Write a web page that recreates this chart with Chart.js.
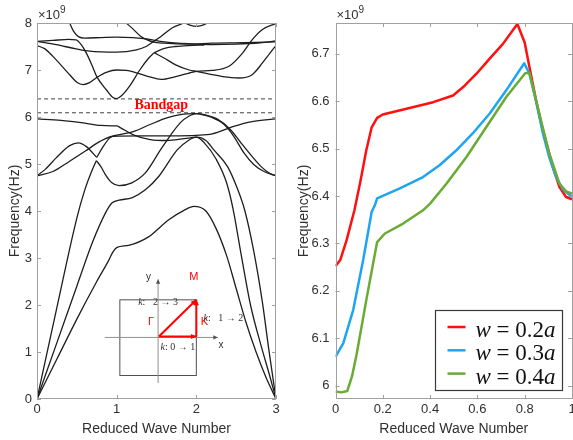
<!DOCTYPE html>
<html>
<head>
<meta charset="utf-8">
<script src="https://cdn.jsdelivr.net/npm/chart.js@4.4.1/dist/chart.umd.min.js"></script>
<style>
  html, body { margin: 0; padding: 0; background: #fff; }
  #wrap { position: relative; width: 573px; height: 440px; overflow: hidden; }
  canvas { position: absolute; top: 0; }
  #bandChart { left: 0; }
  #sweepChart { left: 290px; }
</style>
</head>
<body>
<div id="wrap">
  <canvas id="bandChart" width="290" height="440"></canvas>
  <canvas id="sweepChart" width="283" height="440"></canvas>
</div>
<script>
// ---- left panel: band curves, [reduced wave number, frequency (x1e9 Hz)] ----
const bandLow1 = [[0,0],[0.25,0.85],[0.5,1.7],[0.75,2.5],[0.9,2.95],[0.95,3.12],[1,3.22],[1.15,3.27],[1.4,3.45],[1.65,3.81],[1.85,4.02],[1.97,4.1],[2.12,4.0],[2.25,3.62],[2.38,3.05],[2.5,2.35],[2.62,1.65],[2.75,1.0],[2.87,0.48],[3,0]];
const bandLow2 = [[0,0],[0.25,1.2],[0.5,2.4],[0.7,3.35],[0.86,3.96],[0.94,4.17],[1.03,4.23],[1.19,4.28],[1.36,4.45],[1.53,4.74],[1.76,5.3],[1.9,5.5],[2,5.57],[2.12,5.5],[2.22,5.3],[2.39,4.95],[2.51,4.5],[2.61,4.0],[2.72,3.15],[2.83,2.05],[2.91,1.05],[3,0]];
const bandLow3 = [[0,0],[0.25,1.95],[0.5,3.85],[0.6,4.45],[0.68,4.82],[0.745,5.07]];
const bandMidA = [[0.745,5.07],[0.8,4.95],[0.86,4.77],[0.94,4.6],[1.03,4.54],[1.19,4.6],[1.36,4.81],[1.55,5.3],[1.68,5.62],[1.8,5.88],[1.9,6.01],[2,6.07],[2.1,6.05],[2.26,5.96],[2.43,5.73],[2.56,5.45],[2.68,5.2],[2.81,4.95],[2.93,4.79],[3,4.75]];
const bandMidB = [[0,4.75],[0.1,4.88],[0.24,5.13],[0.41,5.39],[0.52,5.45],[0.62,5.37],[0.75,5.14]];
const bandMidC = [[0.75,5.14],[0.83,5.37],[0.91,5.55],[0.96,5.6],[1.05,5.63],[1.21,5.69],[1.42,5.84],[1.63,5.98],[1.8,6.05],[2,6.07],[2.1,6.04],[2.18,6.0],[2.35,5.84],[2.47,5.59],[2.6,5.23],[2.72,4.99],[2.85,4.84],[3,4.75]];
const bandMidD = [[0,4.75],[0.2,4.84],[0.41,5.06],[0.62,5.29],[0.79,5.48],[0.96,5.59],[1.3,5.6],[1.7,5.6],[2,5.61],[2.2,5.64],[2.47,5.8],[2.7,5.9],[3,5.96]];
const bandMidE = [[0,5.96],[0.3,5.93],[0.6,5.87],[0.8,5.82],[1,5.81],[1.05,5.77],[1.21,5.62],[1.42,5.52],[1.63,5.5],[1.85,5.54],[2,5.57],[2.1,5.45],[2.25,5.1],[2.38,4.6],[2.46,4.05],[2.56,3.1],[2.68,2.0],[2.81,1.15],[2.92,0.5],[3,0]];
const bandUp1 = [[0,7.52],[0.1,7.45],[0.2,7.29],[0.41,6.9],[0.5,6.74],[0.58,6.69],[0.66,6.73],[0.75,6.84],[0.87,6.95],[1,7.0],[1.12,6.99],[1.25,6.94],[1.4,6.86],[1.56,6.8],[1.74,6.86],[1.9,6.93],[2,6.97],[2.2,6.99],[2.41,7.08],[2.58,7.36],[2.7,7.64],[2.83,7.86],[3,7.99]];
const bandUp2 = [[0,7.61],[0.2,7.63],[0.4,7.65],[0.49,7.64],[0.55,7.55],[0.62,7.36],[0.69,7.1],[0.75,6.86],[0.87,6.58],[0.95,6.42],[1,6.39],[1.06,6.45],[1.16,6.65],[1.29,7.0],[1.4,7.25],[1.47,7.37]];
const bandUp3 = [[1.47,7.37],[1.6,7.25],[1.74,7.11],[1.91,7.0],[2,6.97],[2.33,6.86],[2.53,6.83],[2.7,6.9],[2.83,7.15],[2.92,7.35],[3,7.52]];
const bandUp4 = [[1.47,7.37],[1.6,7.46],[1.74,7.5],[1.9,7.52],[2.1,7.53]];
const bandUp5 = [[0.41,8.0],[0.46,7.82],[0.52,7.71],[0.6,7.68],[0.8,7.69],[1,7.7],[1.2,7.69],[1.37,7.66],[1.6,7.6],[1.9,7.56],[2.2,7.54],[2.5,7.55],[2.8,7.58],[3,7.62]];
const bandUp6 = [[0,7.61],[0.24,7.54],[0.49,7.45],[0.66,7.4],[1,7.38],[1.25,7.43],[1.37,7.5],[1.44,7.58],[1.56,7.72],[1.7,7.9],[1.85,8.0]];
const bandUp7 = [[1.12,8.0],[1.2,7.88],[1.3,7.72],[1.37,7.65],[1.45,7.6],[1.6,7.57],[1.9,7.55],[2.2,7.57],[2.6,7.58],[3,7.6]];
const bandUp8 = [[1.86,8.0],[1.93,7.95],[2,7.93],[2.07,7.95],[2.14,8.0]];
const bandgapEdges = [6.09, 6.385];

// ---- right panel: first band above the gap for three strip widths ----
const redX   = [0, 0.02, 0.047, 0.08, 0.105, 0.13, 0.153, 0.176, 0.2, 0.3, 0.413, 0.497, 0.54, 0.596, 0.652, 0.708, 0.769, 0.8, 0.82, 0.848, 0.877, 0.919, 0.947, 0.975, 1.0];
const redF   = [6.252, 6.265, 6.307, 6.37, 6.43, 6.496, 6.545, 6.565, 6.572, 6.584, 6.598, 6.612, 6.63, 6.658, 6.69, 6.721, 6.763, 6.724, 6.672, 6.602, 6.539, 6.461, 6.419, 6.398, 6.393];
const blueX  = [0, 0.033, 0.075, 0.117, 0.153, 0.166, 0.176, 0.272, 0.37, 0.44, 0.51, 0.58, 0.652, 0.722, 0.798, 0.82, 0.848, 0.877, 0.905, 0.933, 0.96, 1.0];
const blueF  = [6.061, 6.09, 6.16, 6.265, 6.367, 6.38, 6.395, 6.416, 6.44, 6.465, 6.496, 6.532, 6.574, 6.623, 6.68, 6.658, 6.6, 6.532, 6.48, 6.44, 6.415, 6.398];
const greenX = [0, 0.025, 0.05, 0.07, 0.09, 0.13, 0.176, 0.209, 0.286, 0.37, 0.4, 0.469, 0.553, 0.637, 0.722, 0.802, 0.82, 0.848, 0.876, 0.904, 0.947, 0.975, 1.0];
const greenF = [5.988, 5.986, 5.989, 6.02, 6.068, 6.18, 6.303, 6.321, 6.342, 6.37, 6.384, 6.426, 6.482, 6.545, 6.609, 6.659, 6.66, 6.602, 6.545, 6.49, 6.426, 6.41, 6.405];
const sweepLabels = ['w = 0.2a', 'w = 0.3a', 'w = 0.4a'];
const sweepColors = ['#ff1010', '#1ea5f2', '#6aab33'];
const rightYTicks = [6, 6.1, 6.2, 6.3, 6.4, 6.5, 6.6, 6.7];

const sans = "'Liberation Sans', Arial, sans-serif";
const serif = "'Liberation Serif', 'DejaVu Serif', serif";
const tickFont = { family: sans, size: 13 };
const titleFont = { family: sans, size: 14 };
const textColor = '#303030';
const boxColor = '#a0a0a0';

function arrow(ctx, x1, y1, x2, y2, size) {
    const ang = Math.atan2(y2 - y1, x2 - x1);
    ctx.beginPath(); ctx.moveTo(x1, y1); ctx.lineTo(x2, y2); ctx.stroke();
    ctx.beginPath();
    ctx.moveTo(x2, y2);
    ctx.lineTo(x2 - size * Math.cos(ang - 0.45), y2 - size * Math.sin(ang - 0.45));
    ctx.lineTo(x2 - size * Math.cos(ang + 0.45), y2 - size * Math.sin(ang + 0.45));
    ctx.closePath(); ctx.fill();
}

// matlab style box, inward ticks on all four sides, x10^9 label
const boxPlugin = {
    id: 'matlabBox',
    afterDatasetsDraw(chart) {
        const { ctx, chartArea: a, scales: { x, y } } = chart;
        ctx.save();
        ctx.strokeStyle = boxColor;
        ctx.lineWidth = 1;
        ctx.strokeRect(Math.round(a.left) + 0.5, Math.round(a.top) + 0.5,
            Math.round(a.right - a.left) - 1, Math.round(a.bottom - a.top) - 1);
        ctx.beginPath();
        x.ticks.forEach(t => {
            const px = Math.round(x.getPixelForValue(t.value)) + 0.5;
            ctx.moveTo(px, a.bottom); ctx.lineTo(px, a.bottom - 4);
            ctx.moveTo(px, a.top); ctx.lineTo(px, a.top + 4);
        });
        y.ticks.forEach(t => {
            const py = Math.round(y.getPixelForValue(t.value)) + 0.5;
            ctx.moveTo(a.left, py); ctx.lineTo(a.left + 4, py);
            ctx.moveTo(a.right, py); ctx.lineTo(a.right - 4, py);
        });
        ctx.stroke();
        ctx.fillStyle = textColor;
        ctx.textBaseline = 'alphabetic';
        ctx.font = '13px ' + sans;
        ctx.fillText('\u00d710', a.left + 1, a.top - 4);
        const w = ctx.measureText('\u00d710').width;
        ctx.font = '10px ' + sans;
        ctx.fillText('9', a.left + 1 + w, a.top - 10);
        ctx.restore();
    }
};

// bandgap label and the brillouin zone sketch
const insetPlugin = {
    id: 'inset',
    afterDatasetsDraw(chart) {
        const { ctx, scales: { x, y } } = chart;
        const X = v => x.getPixelForValue(v), Y = v => y.getPixelForValue(v);
        ctx.save();
        ctx.fillStyle = '#ff0000';
        ctx.font = 'bold 14px ' + serif;
        ctx.textAlign = 'center';
        ctx.textBaseline = 'alphabetic';
        ctx.fillText('Bandgap', X(1.56), Y(6.18));

        // square cell
        ctx.strokeStyle = '#505050';
        ctx.lineWidth = 1;
        ctx.strokeRect(X(1.04), Y(2.11), X(2.0) - X(1.04), Y(0.5) - Y(2.11));
        // axes
        ctx.strokeStyle = '#909090';
        ctx.fillStyle = '#505050';
        arrow(ctx, X(0.85), Y(1.31), X(2.27), Y(1.31), 5);
        arrow(ctx, X(1.52), Y(0.34), X(1.52), Y(2.55), 5);
        ctx.fillStyle = '#303030';
        ctx.font = '10px ' + sans;
        ctx.textAlign = 'center';
        ctx.textBaseline = 'middle';
        ctx.fillText('x', X(2.31), Y(1.15));
        ctx.fillText('y', X(1.40), Y(2.6));

        // irreducible path
        ctx.strokeStyle = '#ff0000';
        ctx.fillStyle = '#ff0000';
        ctx.lineWidth = 2;
        arrow(ctx, X(1.53), Y(1.33), X(2.0), Y(1.33), 6);
        arrow(ctx, X(2.0), Y(1.33), X(2.0), Y(2.11), 6);
        arrow(ctx, X(1.53), Y(1.33), X(2.0), Y(2.11), 6);
        ctx.font = '11px ' + sans;
        ctx.fillText('\u0393', X(1.43), Y(1.63));
        ctx.fillText('K', X(2.1), Y(1.63));
        ctx.fillText('M', X(1.97), Y(2.6));

        // path segment labels
        ctx.fillStyle = '#303030';
        ctx.textAlign = 'left';
        const segLabels = [['2 \u2192 3', 1.27, 2.06], ['1 \u2192 2', 2.09, 1.71], ['0 \u2192 1', 1.55, 1.1]];
        segLabels.forEach(([txt, vx, vy], i) => {
            let px = X(vx);
            ctx.font = 'italic 10px ' + serif;
            ctx.fillText('k', px, Y(vy));
            px += ctx.measureText('k').width;
            ctx.font = '10px ' + serif;
            const rest = (i === 2 ? ': ' : ':   ') + txt;
            ctx.fillText(rest, px, Y(vy));
        });
        ctx.restore();
    }
};

function drawMath(ctx, s, x, y) {
    const parts = [[s[0], 'italic '], [s.slice(1, -1), ''], [s.slice(-1), 'italic ']];
    parts.forEach(([txt, style]) => {
        ctx.font = style + '23px ' + serif;
        ctx.fillText(txt, x, y);
        x += ctx.measureText(txt).width;
    });
}

const legendPlugin = {
    id: 'mathLegend',
    afterDraw(chart) {
        const { ctx, chartArea: a } = chart;
        const w = 127, h = 80;
        const bx = Math.round(a.right - 10.5 - w) + 0.5, by = Math.round(a.bottom - 9 - h) + 0.5;
        ctx.save();
        ctx.fillStyle = '#ffffff';
        ctx.fillRect(bx, by, w, h);
        ctx.strokeStyle = '#3a3a3a';
        ctx.lineWidth = 1.2;
        ctx.strokeRect(bx, by, w, h);
        ctx.textBaseline = 'alphabetic';
        ctx.textAlign = 'left';
        chart.data.datasets.forEach((ds, i) => {
            const base = by + 26.5 + i * 23.3;
            ctx.strokeStyle = ds.borderColor;
            ctx.lineWidth = 2.5;
            ctx.beginPath();
            ctx.moveTo(bx + 12, base - 10); ctx.lineTo(bx + 30, base - 10);
            ctx.stroke();
            ctx.fillStyle = '#111';
            drawMath(ctx, ds.label, bx + 40, base);
        });
        ctx.restore();
    }
};

function axisCommon(extra) {
    return Object.assign({
        type: 'linear',
        grid: { display: false, drawTicks: false },
        border: { display: false },
    }, extra);
}

// ---------------- left chart ----------------
const bandCurves = [bandLow1, bandLow2, bandLow3, bandMidA, bandMidB, bandMidC, bandMidD, bandMidE,
    bandUp1, bandUp2, bandUp3, bandUp4, bandUp5, bandUp6, bandUp7, bandUp8];

const gapSets = bandgapEdges.map(v => ({
    data: [{ x: 0, y: v }, { x: 3, y: v }],
    borderColor: '#444', borderWidth: 1, borderDash: [4, 3], pointRadius: 0, tension: 0
}));
const bandSets = bandCurves.map(c => ({
    data: c.map(p => ({ x: p[0], y: p[1] })),
    borderColor: '#1e1e1e', borderWidth: 1.3, pointRadius: 0,
    cubicInterpolationMode: 'monotone', borderJoinStyle: 'round', fill: false
}));

new Chart(document.getElementById('bandChart'), {
    type: 'line',
    data: { datasets: bandSets.concat(gapSets) },
    options: {
        responsive: false,
        animation: false,
        layout: { padding: { top: 23, right: 14, left: 0, bottom: 0 } },
        plugins: { legend: { display: false }, tooltip: { enabled: false } },
        scales: {
            x: axisCommon({
                min: 0, max: 3,
                ticks: { stepSize: 1, font: tickFont, color: textColor, padding: 3, maxRotation: 0 },
                title: { display: true, text: 'Reduced Wave Number', font: titleFont, color: textColor, padding: { top: 0, bottom: 2 } },
                afterFit: s => { s.height = 41; s.paddingLeft = 0; s.paddingRight = 0; }
            }),
            y: axisCommon({
                min: 0, max: 8,
                ticks: { stepSize: 1, font: tickFont, color: textColor, padding: 5 },
                title: { display: true, text: 'Frequency(Hz)', font: titleFont, color: textColor, padding: { top: 7, bottom: 0 } },
                afterFit: s => { s.width = 37; s.paddingTop = 0; s.paddingBottom = 0; }
            })
        }
    },
    plugins: [boxPlugin, insetPlugin]
});

// ---------------- right chart ----------------
const sweepData = [[redX, redF], [blueX, blueF], [greenX, greenF]];
new Chart(document.getElementById('sweepChart'), {
    type: 'line',
    data: {
        datasets: sweepData.map(([xs, fs], i) => ({
            label: sweepLabels[i],
            data: xs.map((v, j) => ({ x: v, y: fs[j] })),
            borderColor: sweepColors[i], borderWidth: 2.5, pointRadius: 0,
            tension: 0, borderJoinStyle: 'round', order: 3 - i
        }))
    },
    options: {
        responsive: false,
        animation: false,
        layout: { padding: { top: 23, right: 1, left: 0, bottom: 0 } },
        plugins: { legend: { display: false }, tooltip: { enabled: false } },
        scales: {
            x: axisCommon({
                min: 0, max: 1,
                ticks: { stepSize: 0.2, font: tickFont, color: textColor, padding: 3, maxRotation: 0,
                    callback: v => String(+v.toFixed(1)) },
                title: { display: true, text: 'Reduced Wave Number', font: titleFont, color: textColor, padding: { top: 0, bottom: 2 } },
                afterFit: s => { s.height = 41; s.paddingLeft = 0; s.paddingRight = 0; }
            }),
            y: axisCommon({
                min: 5.972, max: 6.765,
                afterBuildTicks: s => { s.ticks = rightYTicks.map(v => ({ value: v })); },
                ticks: { font: tickFont, color: textColor, padding: 6, callback: v => String(+v.toFixed(1)) },
                title: { display: true, text: 'Frequency(Hz)', font: titleFont, color: textColor, padding: { top: 6, bottom: 0 } },
                afterFit: s => { s.width = 45.5; s.paddingTop = 0; s.paddingBottom = 0; }
            })
        }
    },
    plugins: [boxPlugin, legendPlugin]
});
</script>
</body>
</html>
